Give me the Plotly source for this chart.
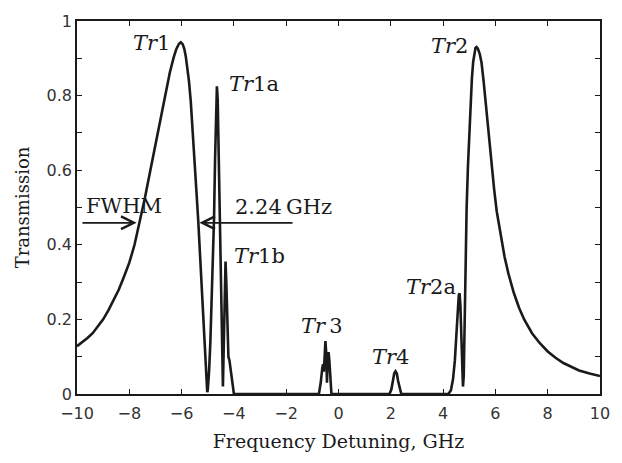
import plotly.graph_objects as go

# ---- data ----
freq = [
    # Tr1
    -10.0, -9.8, -9.6, -9.4, -9.2, -9.0, -8.8, -8.6, -8.4, -8.2, -8.0, -7.8, -7.6, -7.4,
    -7.2, -7.0, -6.8, -6.6, -6.45, -6.3, -6.2, -6.1, -6.03, -5.96, -5.9, -5.84, -5.78,
    -5.72, -5.65, -5.58, -5.5, -5.43, -5.36, -5.3, -5.24, -5.18, -5.12, -5.07, -5.04, -5.02,
    # Tr1a
    -5.0, -4.95, -4.9, -4.85, -4.8, -4.76, -4.72, -4.68, -4.65, -4.62, -4.58, -4.54,
    -4.51, -4.47, -4.44, -4.42,
    # Tr1b
    -4.39, -4.35, -4.32, -4.29, -4.25, -4.21, -4.17, -4.12, -4.06, -4.0,
    # Tr3
    -0.75, -0.68, -0.62, -0.59, -0.56, -0.53, -0.5, -0.47, -0.44, -0.41, -0.38, -0.35,
    -0.31, -0.27,
    # Tr4
    1.95, 2.02, 2.08, 2.13, 2.18, 2.23, 2.28, 2.34, 2.4,
    # Tr2a
    4.2, 4.3, 4.38, 4.45, 4.5, 4.55, 4.6, 4.63, 4.66, 4.7, 4.73, 4.76,
    # Tr2
    4.79, 4.82, 4.86, 4.9, 4.95, 5.0, 5.05, 5.1, 5.15, 5.2, 5.24, 5.28, 5.33, 5.4, 5.47,
    5.55, 5.65, 5.75, 5.85, 5.95, 6.05, 6.2, 6.35, 6.5, 6.7, 6.9, 7.1, 7.4, 7.7, 8.0,
    8.3, 8.6, 8.9, 9.2, 9.6, 10.0,
]
trans = [
    # Tr1
    0.128, 0.138, 0.150, 0.163, 0.180, 0.200, 0.224, 0.250, 0.280, 0.315, 0.352, 0.400, 0.460, 0.527,
    0.598, 0.670, 0.745, 0.815, 0.862, 0.903, 0.925, 0.939, 0.943, 0.938, 0.926, 0.905, 0.878,
    0.840, 0.785, 0.715, 0.630, 0.540, 0.460, 0.380, 0.290, 0.200, 0.120, 0.055, 0.020, 0.005,
    # Tr1a
    0.01, 0.06, 0.14, 0.25, 0.37, 0.47, 0.63, 0.78, 0.825, 0.79, 0.65, 0.50,
    0.40, 0.24, 0.10, 0.02,
    # Tr1b
    0.12, 0.28, 0.355, 0.30, 0.18, 0.10, 0.09, 0.06, 0.025, 0.0,
    # Tr3
    0.0, 0.03, 0.07, 0.08, 0.06, 0.13, 0.142, 0.11, 0.03, 0.10, 0.112, 0.09,
    0.03, 0.0,
    # Tr4
    0.0, 0.012, 0.035, 0.055, 0.061, 0.055, 0.035, 0.012, 0.0,
    # Tr2a
    0.0, 0.01, 0.04, 0.09, 0.15, 0.22, 0.265, 0.27, 0.24, 0.15, 0.07, 0.02,
    # Tr2
    0.05, 0.18, 0.36, 0.50, 0.61, 0.70, 0.78, 0.845, 0.89, 0.917, 0.928, 0.930, 0.926, 0.912, 0.888,
    0.838, 0.762, 0.685, 0.612, 0.550, 0.490, 0.425, 0.368, 0.322, 0.272, 0.232, 0.200, 0.163, 0.136, 0.114,
    0.097, 0.083, 0.072, 0.063, 0.055, 0.048,
]

x_ticks = [-10, -8, -6, -4, -2, 0, 2, 4, 6, 8, 10]
x_tick_labels = ["\u221210", "\u22128", "\u22126", "\u22124", "\u22122", "0", "2", "4", "6", "8", "10"]
y_ticks = [0, 0.2, 0.4, 0.6, 0.8, 1]
y_tick_labels = ["0", "0.2", "0.4", "0.6", "0.8", "1"]

peak_labels = ["<i>Tr</i>1", "<i>Tr</i>1a", "<i>Tr</i>1b", "<i>Tr</i>\u20093", "<i>Tr</i>4", "<i>Tr</i>2a", "<i>Tr</i>2"]
peak_label_x = [-6.38, -4.25, -4.09, -0.62, 2.0, 4.57, 5.02]
peak_label_y = [0.94, 0.83, 0.369, 0.182, 0.10, 0.288, 0.933]
peak_label_anchor = ["right", "left", "left", "center", "center", "right", "right"]

SERIF = "DejaVu Serif"
SANS = "DejaVu Sans"
INK = "#1a1a1a"

fig = go.Figure()
fig.add_trace(go.Scatter(x=freq, y=trans, mode="lines",
                         line=dict(color=INK, width=2.6), showlegend=False,
                         hoverinfo="skip"))

annotations = []
for t, ax_, ay_, anc in zip(peak_labels, peak_label_x, peak_label_y, peak_label_anchor):
    annotations.append(dict(x=ax_, y=ay_, xref="x", yref="y", text=t, showarrow=False,
                            xanchor=anc, yanchor="middle",
                            font=dict(family=SERIF, size=21, color=INK)))

# FWHM text and arrows
annotations.append(dict(x=-9.75, y=0.505, xref="x", yref="y", text="FWHM", showarrow=False,
                        xanchor="left", yanchor="middle",
                        font=dict(family=SERIF, size=21, color=INK)))
annotations.append(dict(x=-4.05, y=0.502, xref="x", yref="y", text="2.24\u2009GHz", showarrow=False,
                        xanchor="left", yanchor="middle",
                        font=dict(family=SERIF, size=21, color=INK)))
annotations.append(dict(x=-7.72, y=0.459, ax=-9.85, ay=0.459, xref="x", yref="y",
                        axref="x", ayref="y", text="", showarrow=True,
                        arrowhead=5, arrowsize=1.4, arrowwidth=1.8, arrowcolor=INK))
annotations.append(dict(x=-5.32, y=0.459, ax=-1.70, ay=0.459, xref="x", yref="y",
                        axref="x", ayref="y", text="", showarrow=True,
                        arrowhead=5, arrowsize=1.4, arrowwidth=1.8, arrowcolor=INK))

fig.update_layout(
    width=622, height=463,
    margin=dict(l=77, r=12, t=15, b=69),
    paper_bgcolor="white", plot_bgcolor="white",
    annotations=annotations,
    xaxis=dict(range=[-10, 10], tickmode="array", tickvals=x_ticks, ticktext=x_tick_labels,
               ticks="inside", ticklen=5, tickwidth=1.2, tickcolor=INK,
               showline=True, linecolor=INK, linewidth=1.6, mirror="ticks",
               showgrid=False, zeroline=False, ticklabelstandoff=4,
               tickfont=dict(family=SANS, size=16, color="#333333"),
               title=dict(text="Frequency Detuning, GHz", standoff=13,
                          font=dict(family=SERIF, size=19, color=INK))),
    yaxis=dict(range=[0, 1], tickmode="array", tickvals=y_ticks, ticktext=y_tick_labels,
               ticks="inside", ticklen=5, tickwidth=1.2, tickcolor=INK,
               minor=dict(dtick=0.1, ticks="inside", ticklen=5, tickwidth=1.2, tickcolor=INK, showgrid=False),
               showline=True, linecolor=INK, linewidth=1.6, mirror="ticks",
               showgrid=False, zeroline=False,
               tickfont=dict(family=SANS, size=16, color="#333333"),
               title=dict(text="Transmission", standoff=12,
                          font=dict(family=SERIF, size=18, color=INK))),
)

fig.write_html("out.html", config={"displayModeBar": False},
               post_script="document.body.style.margin='0';")
